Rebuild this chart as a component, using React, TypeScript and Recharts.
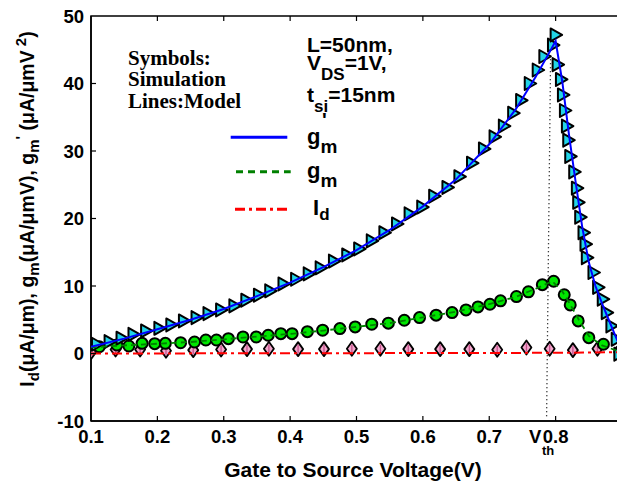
import React from "react";
import {
  ComposedChart,
  Scatter,
  XAxis,
  YAxis,
  ReferenceLine,
  ReferenceArea,
} from "recharts";

// ---------- data ----------
const xTicks = [0.1, 0.2, 0.3, 0.4, 0.5, 0.6, 0.7, 0.8];
const yTicks = [-10, 0, 10, 20, 30, 40, 50];

// g_m' simulation (triangles)
const gmPrimeSimX = [
  0.109, 0.128, 0.146, 0.164, 0.183, 0.203, 0.221, 0.24, 0.259, 0.277, 0.296,
  0.316, 0.334, 0.353, 0.37, 0.39, 0.409, 0.428, 0.446, 0.466, 0.486, 0.504,
  0.523, 0.542, 0.561, 0.58, 0.599, 0.617, 0.637, 0.655, 0.674, 0.692, 0.708,
  0.722, 0.736, 0.748, 0.761, 0.773, 0.783, 0.796, 0.8, 0.803, 0.808, 0.811,
  0.814, 0.817, 0.819, 0.822, 0.828, 0.832, 0.834, 0.837, 0.842, 0.845, 0.847,
  0.857, 0.864, 0.871, 0.877, 0.884, 0.892, 0.896,
];
const gmPrimeSimY = [
  1.37, 1.76, 2.26, 2.85, 3.34, 3.74, 4.23, 4.83, 5.32, 5.91, 6.46, 7.06, 7.9,
  8.64, 9.29, 10.3, 11.0, 11.8, 12.7, 13.7, 14.6, 15.5, 16.7, 17.9, 19.2, 20.7,
  21.7, 23.3, 24.6, 26.2, 28.2, 30.3, 32.1, 33.7, 35.6, 37.5, 40.0, 42.0, 44.0,
  45.7, 47.2, 42.8, 40.6, 38.3, 36.0, 33.7, 31.6, 29.2, 26.9, 24.5, 22.4, 20.2,
  17.9, 16.2, 14.2, 12.0, 9.8, 8.05, 6.06, 4.09, 2.1, -0.1,
];

// g_m' model (blue line)
const gmPrimeModelX = [
  0.1, 0.15, 0.2, 0.25, 0.3, 0.35, 0.4, 0.45, 0.5, 0.55, 0.6, 0.65, 0.7, 0.74,
  0.77, 0.79, 0.8, 0.81, 0.82, 0.83, 0.84, 0.85, 0.86, 0.87, 0.88, 0.89, 0.9,
];
const gmPrimeModelY = [
  1.0, 2.2, 3.6, 5.0, 6.6, 8.5, 10.5, 12.8, 15.3, 18.3, 21.8, 25.8, 31.0, 36.2,
  41.0, 44.5, 46.3, 40.3, 32.5, 25.5, 18.8, 13.5, 10.0, 7.4, 5.0, 2.6, 0.3,
];

// g_m simulation (circles)
const gmSimX = [
  0.1125, 0.139, 0.157, 0.177, 0.196, 0.212, 0.235, 0.256, 0.273, 0.289, 0.307,
  0.329, 0.349, 0.367, 0.386, 0.403, 0.426, 0.449, 0.475, 0.498, 0.523, 0.548,
  0.572, 0.595, 0.62, 0.644, 0.665, 0.683, 0.701, 0.717, 0.741, 0.759, 0.78,
  0.797, 0.813, 0.822, 0.834, 0.85, 0.872, 0.897,
];
const gmSimY = [
  1.0, 1.26, 1.11, 1.51, 1.46, 1.51, 1.6, 1.7, 2.0, 2.0, 2.2, 2.45, 2.45, 2.7,
  2.94, 2.94, 3.24, 3.45, 3.69, 3.94, 4.34, 4.49, 4.93, 5.32, 5.68, 6.06, 6.46,
  6.9, 7.3, 7.8, 8.44, 9.14, 10.2, 10.7, 8.7, 7.2, 4.83, 2.35, 1.37, 0.3,
];

// g_m model (green dashed)
const gmModelX = [
  0.1, 0.15, 0.2, 0.25, 0.3, 0.35, 0.4, 0.45, 0.5, 0.55, 0.6, 0.65, 0.7, 0.74,
  0.77, 0.795, 0.81, 0.82, 0.835, 0.85, 0.87, 0.89, 0.9,
];
const gmModelY = [
  0.9, 1.2, 1.45, 1.7, 2.1, 2.5, 2.9, 3.4, 3.95, 4.5, 5.35, 6.2, 7.3, 8.4, 9.6,
  10.7, 9.2, 7.6, 5.0, 2.6, 1.2, 0.5, 0.2,
];

// I_d simulation (diamonds)
const idSimX = [
  0.1, 0.137, 0.174, 0.213, 0.254, 0.296, 0.335, 0.368, 0.412, 0.451, 0.493,
  0.536, 0.578, 0.626, 0.67, 0.712, 0.756, 0.791, 0.826, 0.863, 0.896,
];
const idSimY = [
  0.2, 0.6, 0.6, 0.4, 0.5, 0.6, 0.65, 0.7, 0.65, 0.65, 0.7, 0.7, 0.65, 0.65,
  0.65, 0.55, 0.9, 0.7, 0.5, 0.7, 0.2,
];

// I_d model (red dash-dot)
const idModelX = [0.1, 0.5, 0.8, 0.9];
const idModelY = [0.0, 0.05, 0.1, 0.2];

// V_th marker line
const vthX = [0.7864, 0.7925];
const vthY = [-9.3, 44.6];

const zip = (xs: number[], ys: number[]) => xs.map((x, i) => ({ x, y: ys[i] }));

const gmPrimeSim = zip(gmPrimeSimX, gmPrimeSimY);
const gmPrimeModel = zip(gmPrimeModelX, gmPrimeModelY);
const gmSim = zip(gmSimX, gmSimY);
const gmModel = zip(gmModelX, gmModelY);
const idSim = zip(idSimX, idSimY);
const idModel = zip(idModelX, idModelY);

// ---------- layout ----------
const W = 617;
const H = 476;
const PLOT_TOP = 8;
const PLOT_BOTTOM = 413;
const PLOT_LEFT = 83;
const PLOT_RIGHT = 614;
const SANS = "'Liberation Sans', Arial, sans-serif";
const SERIF = "'Liberation Serif', 'Times New Roman', serif";

const Tri = (p: any) => {
  const { cx, cy } = p;
  if (cx == null || cy == null) return <g />;
  return (
    <polygon
      points={`${cx - 5},${cy - 6.5} ${cx + 6.5},${cy} ${cx - 5},${cy + 6.5}`}
      fill="#22d4e6"
      stroke="#000"
      strokeWidth={2}
      strokeLinejoin="round"
    />
  );
};

const Dot = (p: any) => {
  const { cx, cy } = p;
  if (cx == null || cy == null) return <g />;
  return <circle cx={cx} cy={cy} r={5.5} fill="#00e600" stroke="#000" strokeWidth={2} />;
};

const Dia = (p: any) => {
  const { cx, cy } = p;
  if (cx == null || cy == null) return <g />;
  return (
    <g>
      <polygon
        points={`${cx},${cy - 7} ${cx + 5},${cy} ${cx},${cy + 7} ${cx - 5},${cy}`}
        fill="#f2a6cc"
        stroke="#000"
        strokeWidth={1.8}
        strokeLinejoin="round"
      />
      <line x1={cx} y1={cy - 4} x2={cx} y2={cy + 4} stroke="#c4528c" strokeWidth={1.3} />
    </g>
  );
};

const NoShape = () => <g />;

const XTick = (p: any) => {
  const { x, payload } = p;
  const v = payload.value as number;
  return (
    <g>
      {v > 0.1 && (
        <>
          <line x1={x} y1={PLOT_BOTTOM} x2={x} y2={PLOT_BOTTOM - 5} stroke="#000" strokeWidth={1.2} />
          <line x1={x} y1={PLOT_TOP} x2={x} y2={PLOT_TOP + 5} stroke="#000" strokeWidth={1.2} />
        </>
      )}
      <text
        x={x}
        y={PLOT_BOTTOM + 22}
        textAnchor="middle"
        fontFamily={SANS}
        fontWeight="bold"
        fontSize={18.5}
        fill="#000"
      >
        {v.toFixed(1)}
      </text>
    </g>
  );
};

const YTick = (p: any) => {
  const { y, payload } = p;
  const v = payload.value as number;
  const inner = v > -10 && v < 50;
  return (
    <g>
      {inner && (
        <>
          <line x1={PLOT_LEFT} y1={y} x2={PLOT_LEFT + 5} y2={y} stroke="#000" strokeWidth={1.2} />
          <line x1={PLOT_RIGHT} y1={y} x2={PLOT_RIGHT - 5} y2={y} stroke="#000" strokeWidth={1.2} />
        </>
      )}
      <text
        x={PLOT_LEFT - 7}
        y={y}
        dy="0.36em"
        textAnchor="end"
        fontFamily={SANS}
        fontWeight="bold"
        fontSize={18.5}
        fill="#000"
      >
        {v}
      </text>
    </g>
  );
};

export default function App() {
  return (
    <div style={{ position: "relative", width: W, height: H, background: "#fff" }}>
      <ComposedChart
        width={W}
        height={H}
        margin={{ top: PLOT_TOP, right: W - PLOT_RIGHT, bottom: H - PLOT_BOTTOM - 40, left: 0 }}
      >
        <XAxis
          dataKey="x"
          type="number"
          domain={[0.1, 0.9]}
          allowDataOverflow
          ticks={xTicks}
          tick={<XTick />}
          tickLine={false}
          tickSize={0}
          tickMargin={0}
          height={40}
          axisLine={{ stroke: "#000", strokeWidth: 1.5 }}
          interval={0}
        />
        <YAxis
          dataKey="y"
          type="number"
          domain={[-10, 50]}
          allowDataOverflow
          ticks={yTicks}
          tick={<YTick />}
          tickLine={false}
          tickSize={0}
          tickMargin={0}
          width={PLOT_LEFT}
          axisLine={{ stroke: "#000", strokeWidth: 1.5 }}
          interval={0}
        />
        <ReferenceArea x1={0.1} x2={0.9} y1={-10} y2={50} fill="none" stroke="#000" strokeWidth={1.5} />
        <ReferenceLine
          segment={[
            { x: vthX[0], y: vthY[0] },
            { x: vthX[1], y: vthY[1] },
          ]}
          stroke="#000"
          strokeWidth={1.3}
          strokeDasharray="1 3"
        />
        <Scatter data={idSim} shape={Dia} isAnimationActive={false} />
        <Scatter data={gmSim} shape={Dot} isAnimationActive={false} />
        <Scatter data={gmPrimeSim} shape={Tri} isAnimationActive={false} />
        <Scatter
          data={idModel}
          shape={NoShape}
          line={{ stroke: "#ff0000", strokeWidth: 2, strokeDasharray: "10 4 3 4" }}
          lineType="joint"
          isAnimationActive={false}
        />
        <Scatter
          data={gmModel}
          shape={NoShape}
          line={{ stroke: "#008000", strokeWidth: 1.8, strokeDasharray: "6 4" }}
          lineType="joint"
          isAnimationActive={false}
        />
        <Scatter
          data={gmPrimeModel}
          shape={NoShape}
          line={{ stroke: "#0000ff", strokeWidth: 2 }}
          lineType="joint"
          isAnimationActive={false}
        />
      </ComposedChart>

      <svg
        width={W}
        height={H}
        style={{ position: "absolute", left: 0, top: 0, pointerEvents: "none" }}
      >
        {/* y-axis title */}
        <text
          transform="rotate(-90)"
          x={-201}
          y={25.5}
          textAnchor="middle"
          fontFamily={SANS}
          fontWeight="bold"
          fontSize={19.5}
          fill="#000"
        >
          I<tspan dy={5} fontSize={15}>d</tspan>
          <tspan dy={-5}>(μA/μm), g</tspan>
          <tspan dy={5} fontSize={15}>m</tspan>
          <tspan dy={-5}>(μA/μmV), g</tspan>
          <tspan dy={5} fontSize={15}>m</tspan>
          <tspan dy={-13} fontSize={15}>'</tspan>
          <tspan dy={8}> (μA/μmV</tspan>
          <tspan dy={-8} fontSize={15}> 2</tspan>
          <tspan dy={8}>)</tspan>
        </text>

        {/* x-axis title */}
        <text
          x={345}
          y={469}
          textAnchor="middle"
          fontFamily={SANS}
          fontWeight="bold"
          fontSize={21}
          fill="#000"
        >
          Gate to Source Voltage(V)
        </text>

        {/* V_th label */}
        <text x={521} y={435} fontFamily={SANS} fontWeight="bold" fontSize={18.5} fill="#000">
          V
        </text>
        <text x={534} y={447} fontFamily={SANS} fontWeight="bold" fontSize={13} fill="#000">
          th
        </text>

        {/* Symbols / Lines annotation */}
        <g fontFamily={SERIF} fontWeight="bold" fontSize={21} fill="#000">
          <text x={120} y={57}>Symbols:</text>
          <text x={120} y={78}>Simulation</text>
          <text x={120} y={100}>Lines:Model</text>
        </g>

        {/* parameters */}
        <g fontFamily={SANS} fontWeight="bold" fontSize={21} fill="#000">
          <text x={299} y={44}>L=50nm,</text>
          <text x={299} y={62}>
            V<tspan dy={10} fontSize={17}>DS</tspan>
            <tspan dy={-10}>=1V,</tspan>
          </text>
          <text x={299} y={94}>
            t<tspan dy={10} fontSize={17}>si</tspan>
            <tspan dy={-10}>=15nm</tspan>
          </text>
        </g>

        {/* legend */}
        <line x1={222.7} y1={129.3} x2={279.3} y2={129.3} stroke="#0000ff" strokeWidth={3} />
        <line x1={228} y1={163.7} x2={282.7} y2={163.7} stroke="#008000" strokeWidth={3} strokeDasharray="7 5" />
        <line x1={227} y1={201.3} x2={282} y2={201.3} stroke="#ff0000" strokeWidth={3} strokeDasharray="10 4 3 4" />
        <g fontFamily={SANS} fontWeight="bold" fontSize={22} fill="#000">
          <text x={299} y={135.5}>
            g<tspan dy={9.5} fontSize={19}>m</tspan>
          </text>
          <text x={314} y={119} fontSize={20}>'</text>
          <text x={299} y={170}>
            g<tspan dy={9} fontSize={19}>m</tspan>
          </text>
          <text x={305} y={207}>
            I<tspan dy={5} fontSize={17}>d</tspan>
          </text>
        </g>
      </svg>
    </div>
  );
}
